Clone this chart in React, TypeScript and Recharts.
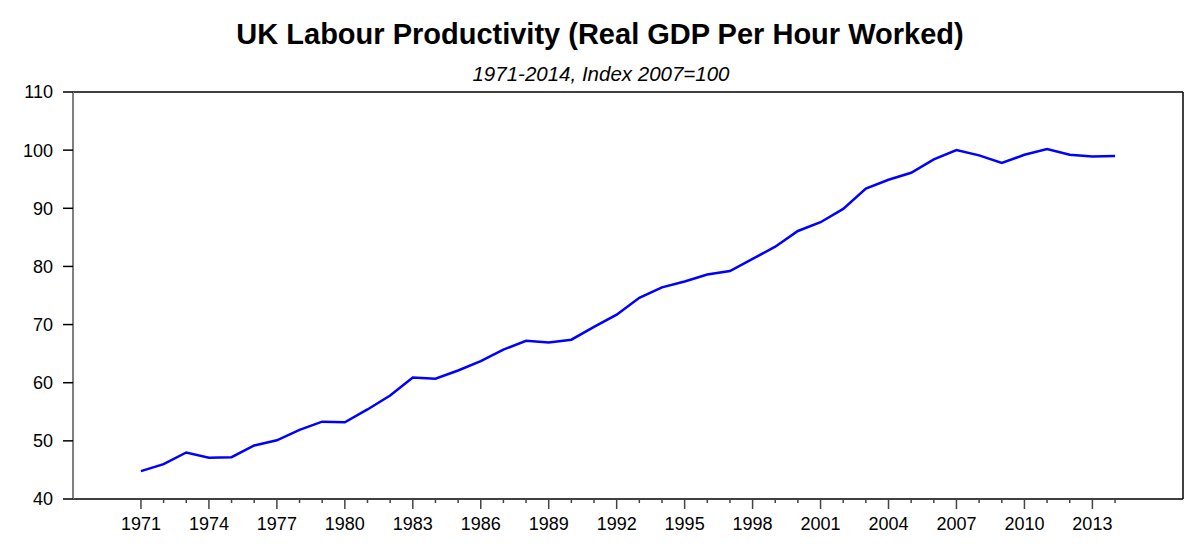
import React from 'react';
import { LineChart, Line, XAxis, YAxis, ReferenceLine } from 'recharts';

const years = [
  1971, 1972, 1973, 1974, 1975, 1976, 1977, 1978, 1979, 1980,
  1981, 1982, 1983, 1984, 1985, 1986, 1987, 1988, 1989, 1990,
  1991, 1992, 1993, 1994, 1995, 1996, 1997, 1998, 1999, 2000,
  2001, 2002, 2003, 2004, 2005, 2006, 2007, 2008, 2009, 2010,
  2011, 2012, 2013, 2014,
];

const productivity = [
  44.8, 46.0, 48.0, 47.1, 47.2, 49.2, 50.1, 51.9, 53.3, 53.2,
  55.4, 57.8, 60.9, 60.7, 62.1, 63.7, 65.7, 67.2, 66.9, 67.4,
  69.6, 71.7, 74.6, 76.4, 77.4, 78.6, 79.2, 81.3, 83.4, 86.1,
  87.6, 89.9, 93.4, 94.9, 96.1, 98.4, 100.0, 99.1, 97.8, 99.2,
  100.2, 99.2, 98.9, 99.0,
];

const yTicks = [40, 50, 60, 70, 80, 90, 100, 110];
const labelEvery = 3;

const data = years.map((year, i) => ({ year, value: productivity[i] }));

const FONT = "Arial, 'Liberation Sans', sans-serif";

function YearTick(props: any) {
  const { x, y, payload } = props;
  const major = (payload.value - years[0]) % labelEvery === 0;
  return (
    <g>
      <line x1={x} y1={y} x2={x} y2={y + (major ? 10 : 4)} stroke="#444" strokeWidth={1.5} />
      {major && (
        <text x={x} y={y + 31} textAnchor="middle" fill="#000" fontSize={18} fontFamily={FONT}>
          {payload.value}
        </text>
      )}
    </g>
  );
}

export default function App() {
  return (
    <div style={{ position: 'absolute', left: 0, top: 0, width: 1200, height: 553, background: '#fff' }}>
      <div
        style={{
          position: 'absolute', left: 0, top: 20, width: 1200, textAlign: 'center',
          fontFamily: FONT, fontWeight: 'bold', fontSize: 29, lineHeight: 1, color: '#000',
        }}
      >
        UK Labour Productivity (Real GDP Per Hour Worked)
      </div>
      <div
        style={{
          position: 'absolute', left: 0, top: 64, width: 1202, textAlign: 'center',
          fontFamily: FONT, fontStyle: 'italic', fontSize: 20.5, lineHeight: 1, color: '#000',
        }}
      >
        1971-2014, Index 2007=100
      </div>
      <div style={{ position: 'absolute', left: 0, top: 0 }}>
        <LineChart width={1200} height={553} data={data} margin={{ top: 92, right: 17, bottom: 0, left: 0 }}>
          <XAxis
            dataKey="year"
            type="number"
            domain={[1968, 2017]}
            ticks={years}
            interval={0}
            tickSize={0}
            tickMargin={0}
            tickLine={false}
            height={54}
            axisLine={{ stroke: '#000', strokeWidth: 1.5 }}
            tick={<YearTick />}
            allowDataOverflow
          />
          <YAxis
            type="number"
            domain={[40, 110]}
            ticks={yTicks}
            interval={0}
            width={73}
            tickSize={10}
            tickMargin={10}
            tickLine={{ stroke: '#000', strokeWidth: 1.5 }}
            axisLine={{ stroke: '#808080', strokeWidth: 2 }}
            tick={{ fill: '#000', fontSize: 18, fontFamily: FONT }}
            allowDataOverflow
          />
          <ReferenceLine y={110} stroke="#000" strokeWidth={1.5} />
          <ReferenceLine x={2017} stroke="#000" strokeWidth={1.5} />
          <Line
            type="linear"
            dataKey="value"
            stroke="#0000ff"
            strokeWidth={2.5}
            dot={false}
            isAnimationActive={false}
          />
        </LineChart>
      </div>
    </div>
  );
}
